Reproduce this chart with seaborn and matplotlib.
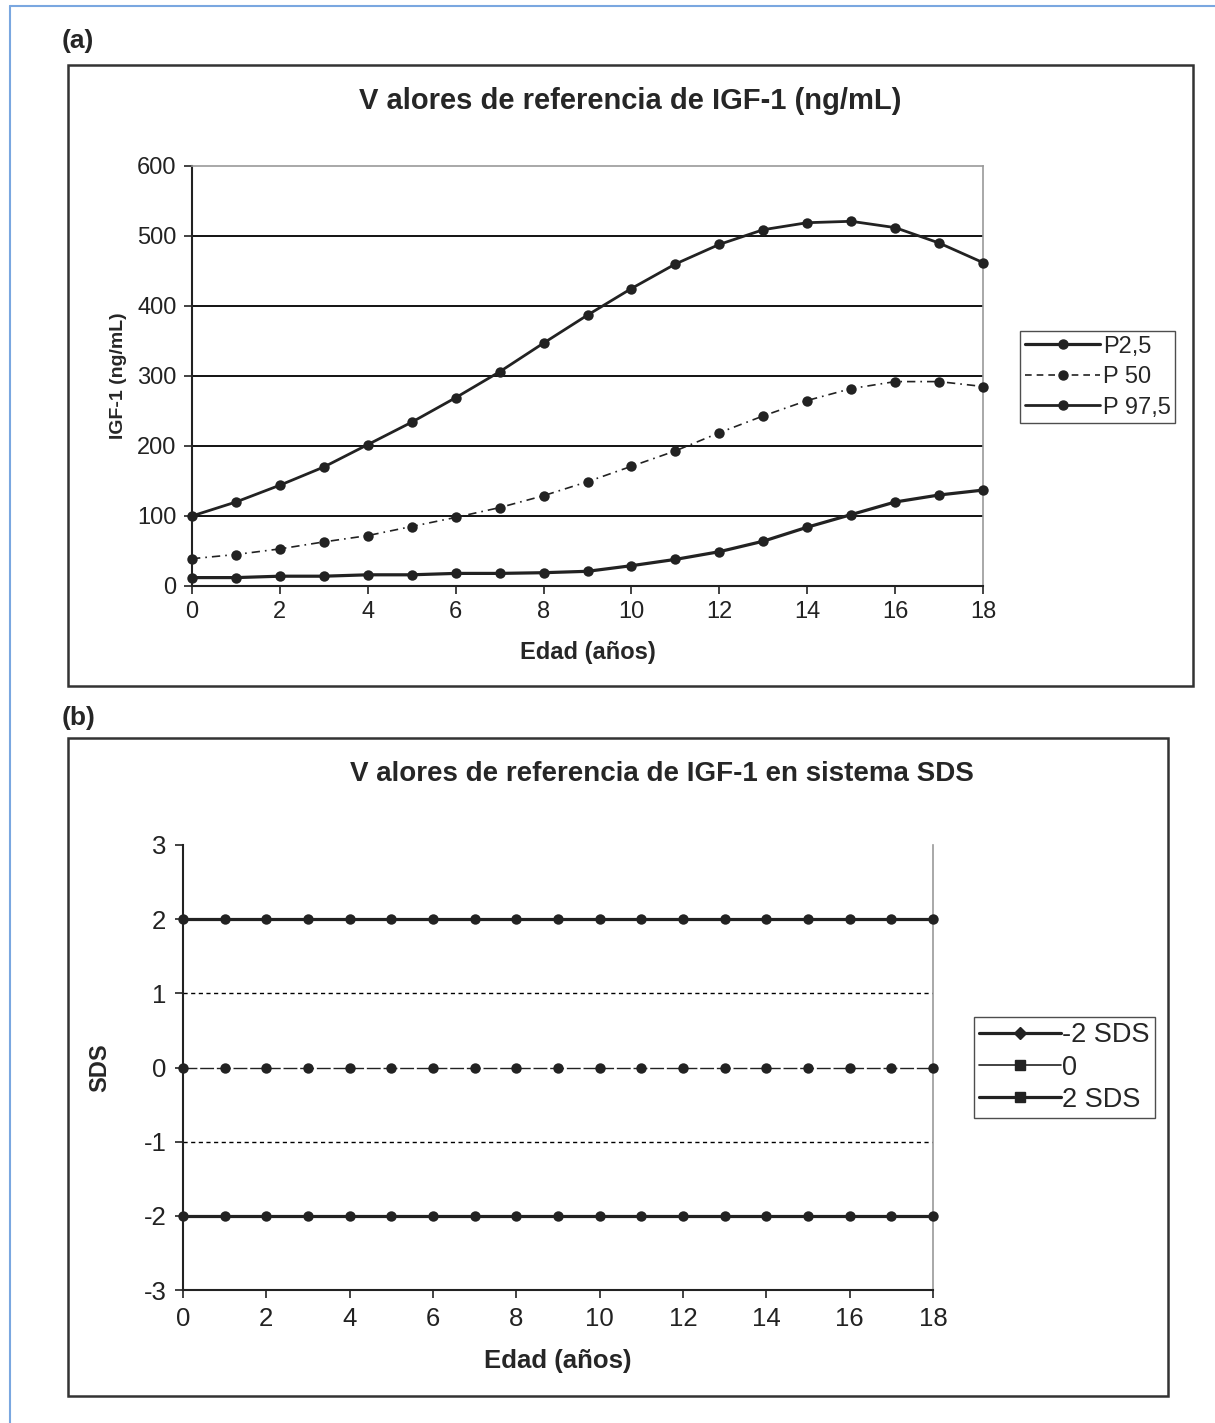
import matplotlib
matplotlib.use("Agg")
import matplotlib.pyplot as plt
import seaborn as sns
import pandas as pd
import numpy as np
from matplotlib.lines import Line2D
from matplotlib.patches import Rectangle

sns.set_theme(style="white")
plt.rcParams['font.family'] = ['Liberation Sans', 'DejaVu Sans']
plt.rcParams['axes.unicode_minus'] = False

# ---------------- data ----------------
edad = list(range(0, 19))
p2_5 = [12, 12, 14, 14, 16, 16, 18, 18, 19, 21, 29, 38, 49, 64, 84, 102, 120, 130, 137]
p50 = [39, 45, 53, 63, 72, 85, 98, 112, 129, 149, 171, 193, 219, 243, 265, 282, 292, 292, 285]
p97_5 = [100, 120, 144, 170, 202, 234, 269, 306, 347, 387, 425, 460, 488, 509, 519, 521, 512, 490, 462]
labels_a = ["P2,5", "P 50", "P 97,5"]

sds_m2 = [-2] * 19
sds_0 = [0] * 19
sds_p2 = [2] * 19
labels_b = ["-2 SDS", "0", "2 SDS"]

title_a = "V alores de referencia de IGF-1 (ng/mL)"
title_b = "V alores de referencia de IGF-1 en sistema SDS"

W, H = 1215, 1423
fig = plt.figure(figsize=(W / 100, H / 100), dpi=100)

def fx(px):
    return px / W

def fy(py):
    return 1 - py / H

# outer blue border (left & top)
fig.add_artist(Line2D([fx(10), fx(10)], [0, fy(6)], color="#7aa7e0", lw=1.5))
fig.add_artist(Line2D([fx(10), 1], [fy(6), fy(6)], color="#7aa7e0", lw=1.5))

# panel frames
fig.add_artist(Rectangle((fx(68), fy(686)), fx(1193) - fx(68), fy(65) - fy(686),
                         fill=False, edgecolor="#333333", lw=1.8, transform=fig.transFigure))
fig.add_artist(Rectangle((fx(68), fy(1396)), fx(1168) - fx(68), fy(738) - fy(1396),
                         fill=False, edgecolor="#333333", lw=1.8, transform=fig.transFigure))

fig.text(fx(62), fy(41), "(a)", fontsize=19, fontweight="bold", va="center", ha="left")
fig.text(fx(62), fy(718), "(b)", fontsize=19, fontweight="bold", va="center", ha="left")

# ---------------- panel (a) ----------------
axa = fig.add_axes([fx(192), fy(586), fx(983) - fx(192), fy(166) - fy(586)])
da = pd.DataFrame({"edad": edad * 3,
                   "valor": p2_5 + p50 + p97_5,
                   "serie": [labels_a[0]] * 19 + [labels_a[1]] * 19 + [labels_a[2]] * 19})
styles_a = {
    labels_a[0]: dict(lw=2.3, ls="-"),
    labels_a[1]: dict(lw=1.2, ls=(0, (5, 3, 1, 3))),
    labels_a[2]: dict(lw=2.0, ls="-"),
}
for s in labels_a:
    sub = da[da["serie"] == s]
    sns.lineplot(data=sub, x="edad", y="valor", ax=axa, color="#222222",
                 marker="o", markersize=7.5, markeredgewidth=0, legend=False,
                 linewidth=styles_a[s]["lw"], linestyle=styles_a[s]["ls"], zorder=3,
                 clip_on=False)

axa.set_xlim(0, 18)
axa.set_ylim(0, 600)
axa.set_xticks(range(0, 19, 2))
axa.set_yticks(range(0, 601, 100))
for v in range(100, 600, 100):
    axa.axhline(v, color="black", lw=1.3, zorder=1)
axa.tick_params(axis="both", which="major", labelsize=17, colors="#222222",
                direction="out", length=6, width=1.2, bottom=True, left=True, pad=5)
for side in ["top", "right"]:
    axa.spines[side].set_color("#999999")
    axa.spines[side].set_linewidth(1.2)
for side in ["left", "bottom"]:
    axa.spines[side].set_color("#222222")
    axa.spines[side].set_linewidth(1.5)
axa.set_xlabel("Edad (años)", fontsize=17, fontweight="bold")
axa.set_ylabel("IGF-1 (ng/mL)", fontsize=14, fontweight="bold")
axa.xaxis.set_label_coords(0.5, -0.131)
axa.yaxis.set_label_coords(-0.082, 0.5)
axa.grid(False)

fig.text(fx(630), fy(101), title_a, fontsize=21, fontweight="bold", ha="center", va="center")

handles_a = [Line2D([], [], color="#222222", lw=styles_a[s]["lw"],
                    ls=styles_a[s]["ls"] if s != labels_a[1] else (0, (4, 3)),
                    marker="o", markersize=6.5) for s in labels_a]
fig.legend(handles_a, labels_a, loc="upper left", bbox_to_anchor=(fx(1020), fy(331)),
           frameon=True, fancybox=False, edgecolor="#222222", fontsize=17,
           handlelength=3.2, handletextpad=0.1, borderpad=0.2, labelspacing=0.36,
           borderaxespad=0)

# ---------------- panel (b) ----------------
axb = fig.add_axes([fx(183), fy(1290), fx(933) - fx(183), fy(845) - fy(1290)])
db = pd.DataFrame({"edad": edad * 3,
                   "sds": sds_m2 + sds_0 + sds_p2,
                   "serie": [labels_b[0]] * 19 + [labels_b[1]] * 19 + [labels_b[2]] * 19})
styles_b = {
    labels_b[0]: dict(lw=2.3, ls="-", m="D", ms=6),
    labels_b[1]: dict(lw=1.0, ls=(0, (10, 2)), m="s", ms=6),
    labels_b[2]: dict(lw=2.3, ls="-", m="s", ms=6),
}
for s in labels_b:
    sub = db[db["serie"] == s]
    st = styles_b[s]
    sns.lineplot(data=sub, x="edad", y="sds", ax=axb, color="#222222",
                 marker="o", markersize=st["ms"] + 1.5, markeredgewidth=0, legend=False,
                 linewidth=st["lw"], linestyle=st["ls"], zorder=3, clip_on=False)

axb.set_xlim(0, 18)
axb.set_ylim(-3, 3)
axb.set_xticks(range(0, 19, 2))
axb.set_yticks(range(-3, 4, 1))
for v in (-1, 1):
    axb.axhline(v, color="black", lw=1.0, ls=(0, (3, 2.5)), zorder=1)
axb.tick_params(axis="both", which="major", labelsize=18.5, colors="#222222",
                direction="out", length=6, width=1.2, bottom=True, left=True, pad=6)
axb.spines["right"].set_color("#999999")
axb.spines["right"].set_linewidth(1.2)
axb.spines["top"].set_visible(False)
for side in ["left", "bottom"]:
    axb.spines[side].set_color("#222222")
    axb.spines[side].set_linewidth(1.5)
axb.set_xlabel("Edad (años)", fontsize=18.5, fontweight="bold")
axb.set_ylabel("SDS", fontsize=17, fontweight="bold")
axb.xaxis.set_label_coords(0.5, -0.133)
axb.yaxis.set_label_coords(-0.096, 0.5)
axb.grid(False)

fig.text(fx(662), fy(774), title_b, fontsize=20, fontweight="bold", ha="center", va="center")

handles_b = [Line2D([], [], color="#222222", lw=styles_b[s]["lw"] if s != labels_b[1] else 1.2,
                    ls="-", marker=styles_b[s]["m"], markersize=6.5) for s in labels_b]
fig.legend(handles_b, labels_b, loc="upper left", bbox_to_anchor=(fx(974), fy(1017)),
           frameon=True, fancybox=False, edgecolor="#222222", fontsize=19.5,
           handlelength=3.0, handletextpad=0.05, borderpad=0.2, labelspacing=0.23,
           borderaxespad=0)

fig.savefig("out.png", dpi=100, facecolor="white")
